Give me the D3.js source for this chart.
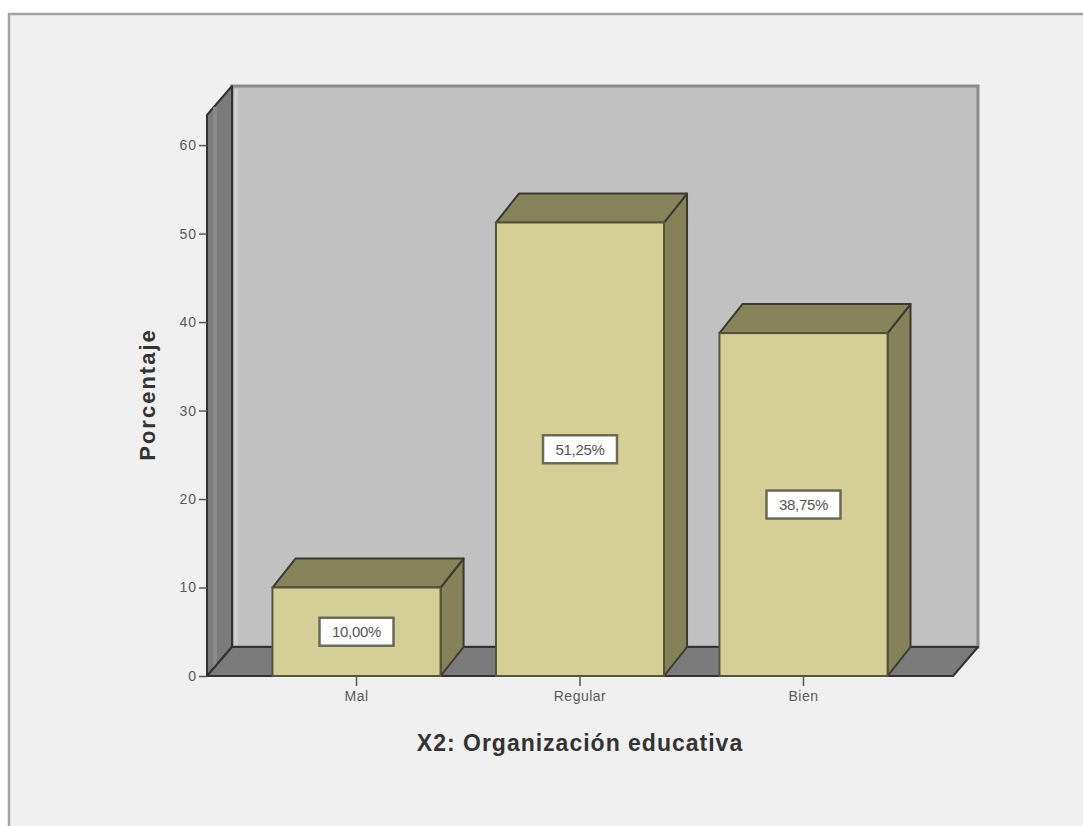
<!DOCTYPE html>
<html>
<head>
<meta charset="utf-8">
<script src="https://cdn.jsdelivr.net/npm/d3@7"></script>
<style>
  html, body { margin: 0; padding: 0; background: #ffffff; }
  svg { display: block; }
</style>
</head>
<body>
<svg id="chart" width="1083" height="826"></svg>
<script>
// Frequency distribution (percent) for the variable X2
const categories = ["Mal", "Regular", "Bien"];
const percents = [10.00, 51.25, 38.75];
const valueLabels = ["10,00%", "51,25%", "38,75%"];
const yTicks = [0, 10, 20, 30, 40, 50, 60];
const yTitle = "Porcentaje";
const xTitle = "X2: Organización educativa";

const svg = d3.select("#chart");
const font = "Arial, 'Liberation Sans', sans-serif";

// Outer panel
svg.append("rect")
  .attr("x", 9).attr("y", 14).attr("width", 1100).attr("height", 840)
  .attr("fill", "#f0f0f0").attr("stroke", "#a3a3a3").attr("stroke-width", 2.5);

// Front plane geometry
const x0 = 207, x1 = 953;
const y = d3.scaleLinear().domain([0, 63.4]).range([676, 115]);
const x = d3.scaleBand().domain(categories).range([x0, x1])
  .paddingInner(0.248).paddingOuter(0.293);

// Depth offsets for the pseudo-3D walls and bars
const wallD = { dx: 25, dy: -29 };
const barD = { dx: 23, dy: -29 };

const poly = pts => pts.map(p => p.join(",")).join(" ");
const edge = "#3a3a30";

const yTop = y.range()[1], yBase = y(0);

// Back wall
svg.append("polygon")
  .attr("points", poly([
    [x0 + wallD.dx, yTop + wallD.dy], [x1 + wallD.dx, yTop + wallD.dy],
    [x1 + wallD.dx, yBase + wallD.dy], [x0 + wallD.dx, yBase + wallD.dy]]))
  .attr("fill", "#c1c1c1").attr("stroke", "#8a8a8a").attr("stroke-width", 3);
svg.append("line")
  .attr("x1", x0 + wallD.dx + 4).attr("x2", x0 + wallD.dx + 4)
  .attr("y1", yTop + wallD.dy + 3).attr("y2", yBase + wallD.dy - 2)
  .attr("stroke", "#d2d2d2").attr("stroke-width", 3);

// Left wall
svg.append("polygon")
  .attr("points", poly([
    [x0, yTop], [x0 + wallD.dx, yTop + wallD.dy],
    [x0 + wallD.dx, yBase + wallD.dy], [x0, yBase]]))
  .attr("fill", "#7b7b7b").attr("stroke", "#333").attr("stroke-width", 2)
  .attr("stroke-linejoin", "round");
svg.append("line")
  .attr("x1", x0 + 8).attr("x2", x0 + 8).attr("y1", yTop - 8).attr("y2", yBase - 8)
  .attr("stroke", "#8a8a8a").attr("stroke-width", 4);

// Floor
svg.append("polygon")
  .attr("points", poly([
    [x0, yBase], [x0 + wallD.dx, yBase + wallD.dy],
    [x1 + wallD.dx, yBase + wallD.dy], [x1, yBase]]))
  .attr("fill", "#7b7b7b").attr("stroke", "#333").attr("stroke-width", 2)
  .attr("stroke-linejoin", "round");

// Y axis ticks and labels
const yAxis = svg.append("g").attr("transform", `translate(${x0},0)`)
  .call(d3.axisLeft(y).tickValues(yTicks).tickSize(8).tickPadding(2).tickFormat(d3.format("d")));
yAxis.select(".domain").remove();
yAxis.selectAll(".tick line").attr("stroke", "#555").attr("stroke-width", 1.5);
yAxis.selectAll(".tick text")
  .attr("font-family", font).attr("letter-spacing", 1)
  .attr("font-size", 14).attr("fill", "#5a5a5a");

// X axis ticks and labels
const xAxis = svg.append("g").attr("transform", `translate(0,${yBase})`)
  .call(d3.axisBottom(x).tickSize(10).tickPadding(5));
xAxis.select(".domain").remove();
xAxis.selectAll(".tick line").attr("stroke", "#555").attr("stroke-width", 1.5);
xAxis.selectAll(".tick text")
  .attr("font-family", font).attr("letter-spacing", 0.5)
  .attr("font-size", 14).attr("fill", "#5a5a5a");

// Bars
const bars = svg.append("g").selectAll("g").data(categories).join("g");
bars.each(function (c, i) {
  const g = d3.select(this);
  const bx = x(c), bw = x.bandwidth(), top = y(percents[i]);
  // side face
  g.append("polygon")
    .attr("points", poly([
      [bx + bw, top], [bx + bw + barD.dx, top + barD.dy],
      [bx + bw + barD.dx, yBase + barD.dy], [bx + bw, yBase]]))
    .attr("fill", "#85825a").attr("stroke", edge).attr("stroke-width", 2)
    .attr("stroke-linejoin", "round");
  // top face
  g.append("polygon")
    .attr("points", poly([
      [bx, top], [bx + barD.dx, top + barD.dy],
      [bx + bw + barD.dx, top + barD.dy], [bx + bw, top]]))
    .attr("fill", "#87845b").attr("stroke", edge).attr("stroke-width", 2)
    .attr("stroke-linejoin", "round");
  // front face
  g.append("rect")
    .attr("x", bx).attr("y", top).attr("width", bw).attr("height", yBase - top)
    .attr("fill", "#d4cf96").attr("stroke", "#55553c").attr("stroke-width", 2);
  // value label
  const cy = (top + yBase) / 2, cx = bx + bw / 2;
  g.append("rect")
    .attr("x", cx - 37).attr("y", cy - 14).attr("width", 74).attr("height", 28)
    .attr("fill", "#ffffff").attr("stroke", "#6a6a55").attr("stroke-width", 2.5);
  g.append("text")
    .attr("x", cx).attr("y", cy).attr("dy", "0.36em")
    .attr("text-anchor", "middle")
    .attr("font-family", font).attr("letter-spacing", -0.3)
    .attr("font-size", 15).attr("fill", "#555")
    .text(valueLabels[i]);
});

// Axis titles
svg.append("text")
  .attr("transform", `translate(155,${(yTop + yBase) / 2 - 1}) rotate(-90)`)
  .attr("text-anchor", "middle")
  .attr("font-family", font).attr("letter-spacing", 2)
  .attr("font-weight", "bold").attr("font-size", 22).attr("fill", "#333")
  .text(yTitle);

svg.append("text")
  .attr("x", (x0 + x1) / 2 + 0).attr("y", 751)
  .attr("text-anchor", "middle")
  .attr("font-family", font).attr("letter-spacing", 1)
  .attr("font-weight", "bold").attr("font-size", 23).attr("fill", "#333")
  .text(xTitle);
</script>
</body>
</html>
